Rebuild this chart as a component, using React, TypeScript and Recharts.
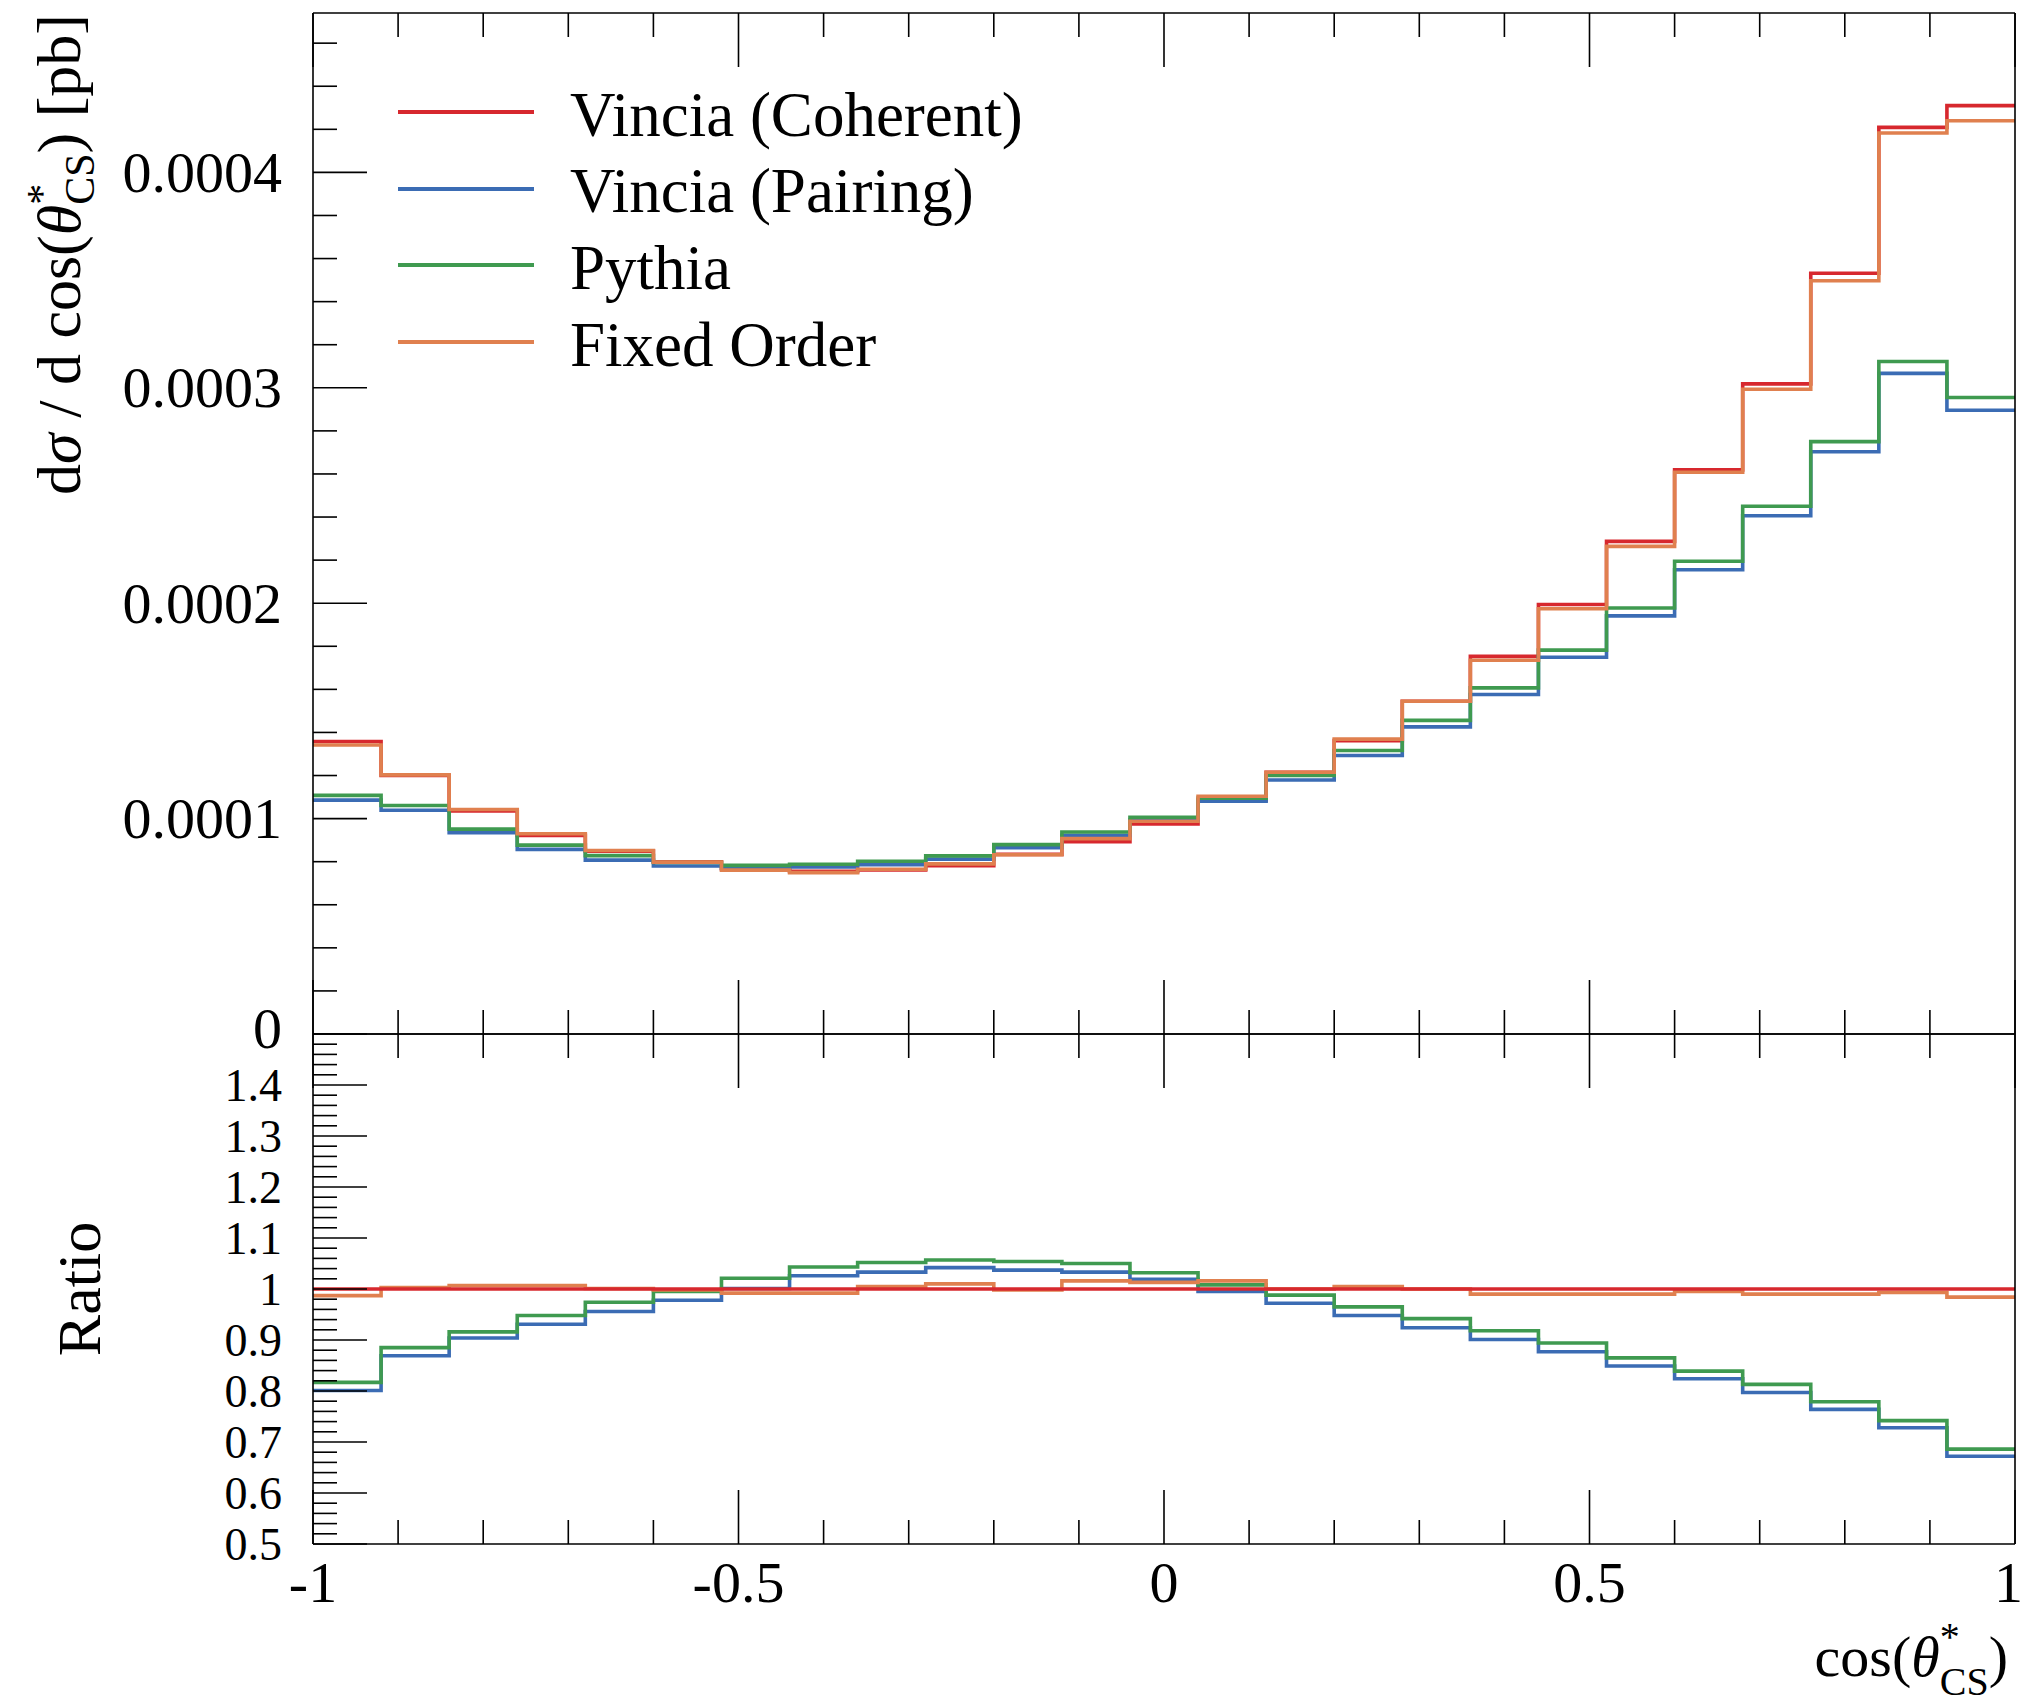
import React from 'react';
import { LineChart, Line, XAxis, YAxis, Legend } from 'recharts';

// 25 bins in cos(theta*_CS)
const binEdges = [
  -1, -0.92, -0.84, -0.76, -0.68, -0.6, -0.52, -0.44, -0.36, -0.28, -0.2, -0.12, -0.04,
  0.04, 0.12, 0.2, 0.28, 0.36, 0.44, 0.52, 0.6, 0.68, 0.76, 0.84, 0.92, 1,
];

// dsigma/dcos in units of 1e-4 pb, one value per bin
const coherent = [
  1.358, 1.2, 1.035, 0.922, 0.849, 0.8, 0.767, 0.755, 0.762, 0.781, 0.834, 0.893, 0.975,
  1.087, 1.215, 1.362, 1.545, 1.753, 1.994, 2.287, 2.619, 3.018, 3.532, 4.209, 4.31,
];
const pairing = [
  1.086, 1.039, 0.934, 0.857, 0.807, 0.78, 0.768, 0.775, 0.786, 0.812, 0.865, 0.922, 0.993,
  1.081, 1.179, 1.293, 1.426, 1.576, 1.749, 1.941, 2.155, 2.406, 2.703, 3.067, 2.896,
];
const pythia = [
  1.108, 1.061, 0.951, 0.877, 0.828, 0.796, 0.783, 0.788, 0.802, 0.827, 0.879, 0.938, 1.006,
  1.095, 1.2, 1.316, 1.456, 1.607, 1.782, 1.978, 2.195, 2.45, 2.75, 3.122, 2.955,
];
const fixedOrder = [
  1.342, 1.203, 1.042, 0.93, 0.852, 0.798, 0.761, 0.749, 0.765, 0.79, 0.832, 0.907, 0.988,
  1.104, 1.215, 1.369, 1.545, 1.735, 1.974, 2.264, 2.608, 2.993, 3.497, 4.183, 4.24,
];

// ratio to Vincia (Coherent)
const coherentRatio = [
  1, 1, 1, 1, 1, 1, 1, 1, 1, 1, 1, 1, 1, 1, 1, 1, 1, 1, 1, 1, 1, 1, 1, 1, 1,
];
const pairingRatio = [
  0.801, 0.869, 0.904, 0.931, 0.956, 0.978, 1.001, 1.026, 1.033, 1.042, 1.037, 1.033, 1.019,
  0.995, 0.972, 0.948, 0.924, 0.901, 0.877, 0.849, 0.824, 0.797, 0.764, 0.728, 0.672,
];
const pythiaRatio = [
  0.817, 0.885, 0.916, 0.948, 0.974, 0.995, 1.021, 1.043, 1.052, 1.057, 1.054, 1.05, 1.032,
  1.008, 0.988, 0.965, 0.942, 0.918, 0.894, 0.865, 0.839, 0.813, 0.779, 0.742, 0.686,
];
const fixedOrderRatio = [
  0.987, 1.003, 1.007, 1.007, 1.001, 0.998, 0.992, 0.992, 1.005, 1.01, 0.998, 1.016, 1.013,
  1.016, 1.0, 1.005, 1.0, 0.99, 0.99, 0.99, 0.995, 0.99, 0.99, 0.993, 0.984,
];

// axis ticks
const xMajors = [-1, -0.5, 0, 0.5, 1];
const xTickLabels = ['-1', '-0.5', '0', '0.5', '1'];
const mainYMajors = [0, 1, 2, 3, 4];
const mainYTickLabels = ['0', '0.0001', '0.0002', '0.0003', '0.0004'];
const ratioYMajors = [0.5, 0.6, 0.7, 0.8, 0.9, 1, 1.1, 1.2, 1.3, 1.4];
const ratioYTickLabels = ['0.5', '0.6', '0.7', '0.8', '0.9', '1', '1.1', '1.2', '1.3', '1.4'];

const series = [
  { key: 'coherent', name: 'Vincia (Coherent)', color: '#d7282e' },
  { key: 'pairing', name: 'Vincia (Pairing)', color: '#3b6cb4' },
  { key: 'pythia', name: 'Pythia', color: '#3f9a50' },
  { key: 'fixedOrder', name: 'Fixed Order', color: '#e0804f' },
];

const FONT = '"Liberation Serif", "DejaVu Serif", serif';
const TICK_FONT = 58;
const RATIO_TICK_FONT = 46;
const MAJOR_LEN = 54;
const MINOR_LEN = 24;
const FRAME = { stroke: '#000', strokeWidth: 1.6 };
const MAIN_Y_MAX = 4.74;
const RATIO_TOP = 1024; // page offset of the ratio panel svg
const PAGE_W = 2025;

const xTicks = Array.from({ length: 21 }, (_, i) => -1 + i * 0.1);
const mainYTicks = Array.from({ length: 24 }, (_, i) => i * 0.2);
const ratioYTicks = Array.from({ length: 50 }, (_, i) => 0.5 + i * 0.02);

// step histogram: value of bin i is held from edge i to edge i+1
const mainData = binEdges.map((x, i) => {
  const b = Math.min(i, coherent.length - 1);
  return { x, coherent: coherent[b], pairing: pairing[b], pythia: pythia[b], fixedOrder: fixedOrder[b] };
});
const ratioData = binEdges.map((x, i) => {
  const b = Math.min(i, coherentRatio.length - 1);
  return {
    x,
    coherent: coherentRatio[b],
    pairing: pairingRatio[b],
    pythia: pythiaRatio[b],
    fixedOrder: fixedOrderRatio[b],
  };
});

const majorIndex = (v: number, majors: number[]) => majors.findIndex((m) => Math.abs(m - v) < 1e-6);

// ticks on left/right axes, drawn inwards
const SideTick = ({ x, y, payload, side, majors, labels, fontSize, shiftFirst }: any) => {
  const idx = majorIndex(payload.value, majors);
  const len = idx >= 0 ? MAJOR_LEN : MINOR_LEN;
  const dir = side === 'left' ? 1 : -1;
  // the lowest label of the upper panel sits a touch higher to clear the ratio labels
  const dy = shiftFirst && idx === 0 ? -6 : 0;
  return (
    <g>
      <line x1={x} x2={x + dir * len} y1={y} y2={y} {...FRAME} />
      {labels && idx >= 0 && (
        <text x={x - 31} y={y + dy} textAnchor="end" dominantBaseline="central" fontSize={fontSize || TICK_FONT} fontFamily={FONT} fill="#000">
          {labels[idx]}
        </text>
      )}
    </g>
  );
};

// ticks on top/bottom axes, drawn inwards
const EdgeTick = ({ x, y, payload, side, labels }: any) => {
  const idx = majorIndex(payload.value, xMajors);
  const len = idx >= 0 ? MAJOR_LEN : MINOR_LEN;
  const dir = side === 'top' ? 1 : -1;
  const last = idx === xMajors.length - 1;
  return (
    <g>
      <line x1={x} x2={x} y1={y} y2={y + dir * len} {...FRAME} />
      {labels && idx >= 0 && (
        <text x={last ? PAGE_W - 2 : x} y={y + 58} textAnchor={last ? 'end' : 'middle'} fontSize={TICK_FONT} fontFamily={FONT} fill="#000">
          {labels[idx]}
        </text>
      )}
    </g>
  );
};

const MainYTitle = () => (
  <text transform="rotate(-90)" x={-14} y={80} textAnchor="end" fontSize={62} fontFamily={FONT} fill="#000">
    d<tspan fontStyle="italic">σ</tspan> / d cos(<tspan fontStyle="italic">θ</tspan>
    <tspan fontSize={42} dy={-24}>*</tspan>
    <tspan fontSize={42} dx={-21} dy={38}>CS</tspan>
    <tspan dy={-14}>) [pb]</tspan>
  </text>
);

const RatioYTitle = () => (
  <text transform="rotate(-90)" x={-(1289 - RATIO_TOP)} y={100} textAnchor="middle" fontSize={62} fontFamily={FONT} fill="#000">
    Ratio
  </text>
);

const XTitle = () => (
  <text x={2008} y={1676 - RATIO_TOP} textAnchor="end" fontSize={58} fontFamily={FONT} fill="#000">
    cos(<tspan fontStyle="italic">θ</tspan>
    <tspan fontSize={40} dy={-26}>*</tspan>
    <tspan fontSize={40} dx={-20} dy={45}>CS</tspan>
    <tspan dy={-19}>)</tspan>
  </text>
);

const LegendBox = () => (
  <div style={{ fontFamily: FONT, color: '#000' }}>
    {series.map((s) => (
      <div key={s.key} style={{ display: 'flex', alignItems: 'center', height: 76.6 }}>
        <svg width={136} height={8} style={{ display: 'block' }}>
          <line x1={0} x2={136} y1={4} y2={4} stroke={s.color} strokeWidth={4} />
        </svg>
        <span style={{ marginLeft: 36, fontSize: 63, lineHeight: 1, position: 'relative', top: 3, whiteSpace: 'nowrap' }}>
          {s.name}
        </span>
      </div>
    ))}
  </div>
);

const axisCommon = {
  axisLine: FRAME,
  tickLine: false,
  tickSize: 0,
  tickMargin: 0,
  interval: 0 as const,
};

export default function App() {
  const ratioOrder = ['pairing', 'pythia', 'fixedOrder', 'coherent'];
  return (
    <div style={{ position: 'absolute', left: 0, top: 0, width: PAGE_W, height: 1705, background: '#fff', fontFamily: FONT }}>
      <div style={{ position: 'absolute', left: 0, top: 0 }}>
        <LineChart width={PAGE_W} height={1070} data={mainData} margin={{ top: 0, right: 0, bottom: 0, left: 0 }}>
          <XAxis xAxisId="bottom" orientation="bottom" dataKey="x" type="number" domain={[-1, 1]} ticks={xTicks} height={36}
            {...axisCommon} tick={(p: any) => <EdgeTick {...p} side="bottom" />} />
          <XAxis xAxisId="top" orientation="top" dataKey="x" type="number" domain={[-1, 1]} ticks={xTicks} height={13}
            {...axisCommon} tick={(p: any) => <EdgeTick {...p} side="top" />} />
          <YAxis yAxisId="left" orientation="left" type="number" domain={[0, MAIN_Y_MAX]} ticks={mainYTicks} width={313}
            {...axisCommon}
            tick={(p: any) => <SideTick {...p} side="left" majors={mainYMajors} labels={mainYTickLabels} shiftFirst />}
            label={<MainYTitle />} />
          <YAxis yAxisId="right" orientation="right" type="number" domain={[0, MAIN_Y_MAX]} ticks={mainYTicks} width={10}
            {...axisCommon} tick={(p: any) => <SideTick {...p} side="right" majors={mainYMajors} />} />
          <Legend layout="vertical" align="center" verticalAlign="middle" content={() => <LegendBox />}
            wrapperStyle={{ left: 398, top: 74, width: 800, height: 310 }} />
          {series.map((s) => (
            <Line key={s.key} xAxisId="bottom" yAxisId="left" type="stepAfter" dataKey={s.key} name={s.name}
              stroke={s.color} strokeWidth={3.6} dot={false} activeDot={false} isAnimationActive={false} />
          ))}
        </LineChart>
      </div>
      <div style={{ position: 'absolute', left: 0, top: RATIO_TOP }}>
        <LineChart width={PAGE_W} height={681} data={ratioData} margin={{ top: 0, right: 0, bottom: 0, left: 0 }}>
          <XAxis xAxisId="bottom" orientation="bottom" dataKey="x" type="number" domain={[-1, 1]} ticks={xTicks} height={161}
            {...axisCommon} tick={(p: any) => <EdgeTick {...p} side="bottom" labels={xTickLabels} />}
            label={<XTitle />} />
          <XAxis xAxisId="top" orientation="top" dataKey="x" type="number" domain={[-1, 1]} ticks={xTicks} height={10}
            {...axisCommon} tick={(p: any) => <EdgeTick {...p} side="top" />} />
          <YAxis yAxisId="left" orientation="left" type="number" domain={[0.5, 1.5]} ticks={ratioYTicks} width={313}
            {...axisCommon}
            tick={(p: any) => <SideTick {...p} side="left" majors={ratioYMajors} labels={ratioYTickLabels} fontSize={RATIO_TICK_FONT} />}
            label={<RatioYTitle />} />
          <YAxis yAxisId="right" orientation="right" type="number" domain={[0.5, 1.5]} ticks={ratioYTicks} width={10}
            {...axisCommon} tick={(p: any) => <SideTick {...p} side="right" majors={ratioYMajors} />} />
          {ratioOrder.map((k) => {
            const s = series.find((e) => e.key === k)!;
            return (
              <Line key={k} xAxisId="bottom" yAxisId="left" type="stepAfter" dataKey={k} name={s.name}
                stroke={s.color} strokeWidth={3.6} dot={false} activeDot={false} isAnimationActive={false} />
            );
          })}
        </LineChart>
      </div>
    </div>
  );
}
